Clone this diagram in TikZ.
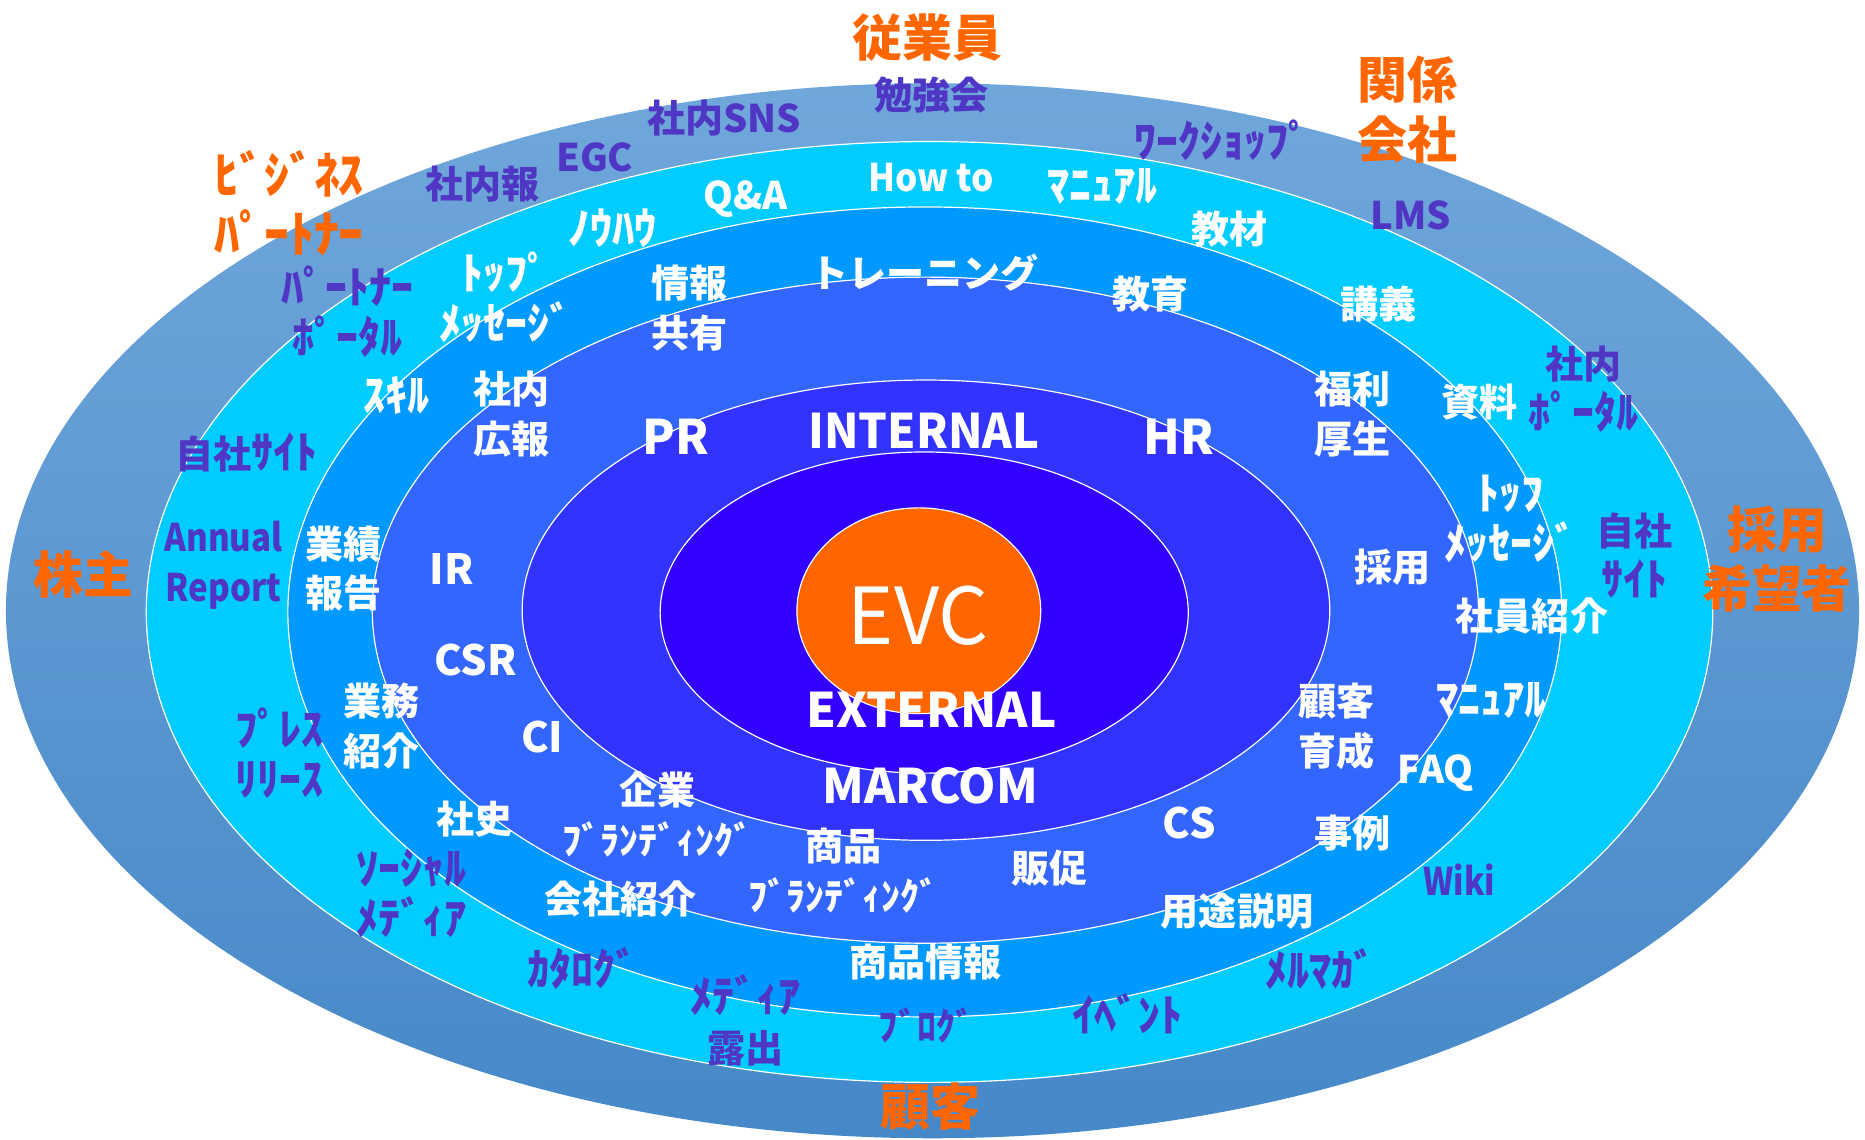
\documentclass[tikz,border=0pt]{standalone}
\usepackage{fontspec}
\usetikzlibrary{shapes.geometric}
\newfontfamily\jp{Noto Sans CJK JP}
\newcommand{\hwk}[1]{{\fontsize{37}{42}\selectfont #1}}
\definecolor{evcorange}{HTML}{FF6600}
\definecolor{txtpurple}{HTML}{5036C4}
\definecolor{ringtop}{HTML}{70A7DB}
\definecolor{ringbot}{HTML}{4688C8}
\definecolor{ringcyan}{HTML}{00CCFF}
\definecolor{ringazure}{HTML}{0099FF}
\definecolor{ringmid}{HTML}{3366FF}
\definecolor{ringin}{HTML}{3333FF}
\definecolor{ringcore}{HTML}{3300FF}
\begin{document}
\begin{tikzpicture}[x=1pt,y=-1pt,
  ring/.style={ellipse, inner sep=0pt, draw=white, line width=1pt},
  lbl/.style={inner sep=0pt, align=center},
  org/.style={lbl, text=evcorange, font=\jp\bfseries\fontsize{42}{50}\selectfont},
  pur/.style={lbl, text=txtpurple, font=\jp\bfseries\fontsize{32}{42}\selectfont},
  wht/.style={lbl, text=white, font=\jp\bfseries\fontsize{32}{42}\selectfont},
  mid/.style={lbl, text=white, font=\jp\bfseries\fontsize{35}{42}\selectfont},
  big/.style={lbl, text=white, font=\jp\bfseries\fontsize{40}{44}\selectfont},
]
\useasboundingbox (0,0) rectangle (1568,958);
% rings
\node[ring, draw=none, top color=ringtop, bottom color=ringbot, minimum width=1558pt, minimum height=887pt] (r1) at (784,513.5) {};
\node[ring, fill=ringcyan, minimum width=1317pt, minimum height=791pt] (r2) at (781.5,514.5) {};
\node[ring, fill=ringazure, minimum width=1071pt, minimum height=681pt] (r3) at (777.5,514.5) {};
\node[ring, fill=ringmid, minimum width=930pt, minimum height=560pt] (r4) at (778,513) {};
\node[ring, fill=ringin, minimum width=679pt, minimum height=387pt] (r5) at (778.5,513) {};
\node[ring, fill=ringcore, minimum width=444pt, minimum height=270pt] (r6) at (777,515) {};
\node[ring, fill=evcorange, minimum width=205pt, minimum height=173pt] (evc) at (772.5,513.5) {};
\node[lbl, text=white, font=\jp\fontsize{66}{66}\selectfont] (evct) at (772,518) {EVC};
% orange stakeholders
\node[org] (o1) at (780,32) {従業員};
\node[org] (o2) at (1183,92) {関係\\会社};
\node[org] (o3) at (243,171) {ﾋﾞｼﾞﾈｽ\\ﾊﾟｰﾄﾅｰ};
\node[org] (o4) at (70,483) {株主};
\node[org] (o5) at (1494,470) {採用\\希望者};
\node[org] (o6) at (782,930) {顧客};
% purple outer ring
\node[pur] (p1) at (783,80) {勉強会};
\node[pur] (p2) at (609,99) {社内SNS};
\node[pur] (p3) at (500,132) {EGC};
\node[pur] (p4) at (406,155) {社内報};
\node[pur] (p5) at (1028,118) {\hwk{ﾜｰｸｼｮｯﾌﾟ}};
\node[pur] (p6) at (1186,181) {LMS};
\node[pur] (p7) at (292,262) {\hwk{ﾊﾟｰﾄﾅｰ}\\\hwk{ﾎﾟｰﾀﾙ}};
\node[pur] (p8) at (207,380) {自社\hwk{ｻｲﾄ}};
\node[pur, xscale=0.87] (p9) at (188,475) {Annual\\Report};
\node[pur] (p10) at (1331,327) {社内\\\hwk{ﾎﾟｰﾀﾙ}};
\node[pur] (p11) at (1374,467) {自社\\\hwk{ｻｲﾄ}};
\node[pur] (p12) at (235,633) {\hwk{ﾌﾟﾚｽ}\\\hwk{ﾘﾘｰｽ}};
\node[pur] (p13) at (346,751) {\hwk{ｿｰｼｬﾙ}\\\hwk{ﾒﾃﾞｨｱ}};
\node[pur] (p14) at (490,814) {\hwk{ｶﾀﾛｸﾞ}};
\node[pur] (p15) at (627,858) {\hwk{ﾒﾃﾞｨｱ}\\露出};
\node[pur] (p16) at (779,862) {ﾌﾞﾛｸﾞ};
\node[pur] (p17) at (948,852) {\hwk{ｲﾍﾞﾝﾄ}};
\node[pur] (p18) at (1110,815) {\hwk{ﾒﾙﾏｶﾞ}};
\node[pur, xscale=0.85] (p19) at (1227,740) {Wiki};
% white, cyan ring
\node[wht, xscale=0.92] (w1) at (783,149) {How to};
\node[wht] (w2) at (627,167) {Q\&A};
\node[wht] (w3) at (927,157) {\hwk{ﾏﾆｭｱﾙ}};
\node[wht] (w4) at (515,192) {\hwk{ﾉｳﾊｳ}};
\node[wht] (w5) at (1034,193) {教材};
\node[wht] (w6) at (425,250) {\hwk{ﾄｯﾌﾟ}\\\hwk{ﾒｯｾｰｼﾞ}};
\node[wht] (w7) at (1159,256) {講義};
\node[wht] (w8) at (333,332) {\hwk{ｽｷﾙ}};
\node[wht] (w9) at (1244,338) {資料};
\node[wht] (w10) at (1270,436) {\hwk{ﾄｯﾌ}\\\hwk{ﾒｯｾｰｼﾞ}};
\node[wht] (w11) at (1288,518) {社員紹介};
\node[wht] (w12) at (1254,589) {\hwk{ﾏﾆｭｱﾙ}};
\node[wht] (w13) at (1207,650) {FAQ};
% white, azure ring
\node[wht] (a1) at (580,259) {情報\\共有};
\node[wht] (a2) at (777,229) {トレーニング};
\node[wht] (a3) at (967,247) {教育};
\node[wht] (a4) at (1137,348) {福利\\厚生};
\node[wht] (a5) at (430,348) {社内\\広報};
\node[wht] (a6) at (289,478) {業績\\報告};
\node[wht] (a7) at (1171,477) {採用};
\node[wht] (a8) at (321,610) {業務\\紹介};
\node[wht] (a9) at (1124,611) {顧客\\育成};
\node[wht] (a10) at (399,689) {社史};
\node[wht] (a11) at (1137,700) {事例};
\node[wht] (a12) at (522,756) {会社紹介};
\node[wht] (a13) at (1040,766) {用途説明};
\node[wht] (a14) at (778,809) {商品情報};
% white, middle ring
\node[big] (m1) at (568,367) {PR};
\node[big] (m2) at (991,367) {HR};
\node[mid] (m3) at (380,478) {IR};
\node[mid] (m4) at (400,555) {CSR};
\node[mid] (m5) at (456,620) {CI};
\node[wht] (m6) at (553,685) {企業\\ﾌﾞﾗﾝﾃﾞｨﾝｸﾞ};
\node[wht] (m7) at (709,732) {商品\\ﾌﾞﾗﾝﾃﾞｨﾝｸﾞ};
\node[wht] (m8) at (882,730) {販促};
\node[mid] (m9) at (1000,692) {CS};
% inner ring
\node[big, xscale=0.95] (i1) at (777,362) {INTERNAL};
\node[big] (i2) at (783,597) {EXTERNAL};
\node[big] (i3) at (782,661) {MARCOM};
\end{tikzpicture}
\end{document}
